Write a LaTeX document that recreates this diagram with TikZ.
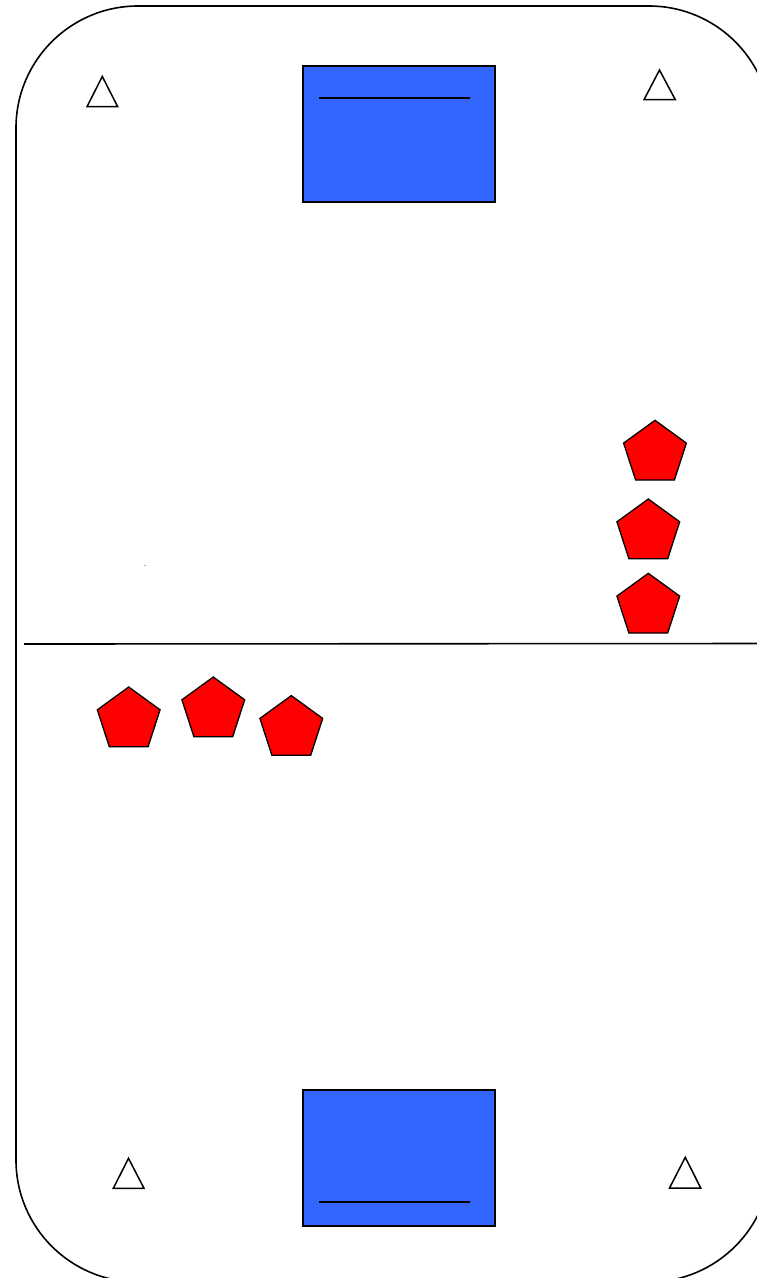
\documentclass[tikz,border=0pt]{standalone}
\usetikzlibrary{shapes.geometric}
\definecolor{goalblue}{HTML}{3366FF}
\definecolor{puckred}{HTML}{FF0000}
\tikzset{
  outline/.style={draw=black, line width=1.6pt},
  goalbox/.style={draw=black, line width=1.5pt, fill=goalblue},
  goalline/.style={draw=black, line width=1.5pt},
  cone/.style={draw=black, line width=1.5pt, fill=white},
  player/.style={regular polygon, regular polygon sides=5, minimum size=66pt, inner sep=0pt, draw=black, line width=1.3pt, fill=puckred},
}
\begin{document}
\begin{tikzpicture}[x=1pt, y=-1pt]
\useasboundingbox (0,0) rectangle (757,1278);
\clip (0,0) rectangle (757,1278);
\fill[white] (0,0) rectangle (757,1278);
% rink outline
\draw[outline, rounded corners=122pt] (16,6) rectangle (771,1282);
% centre line
\coordinate (cl) at (24,644);
\coordinate (cr) at (771,643.5);
\draw[outline] (cl) -- (cr);
% goals
\draw[goalbox] (303,66) rectangle (495,202);
\coordinate (gt1) at (319,98);
\coordinate (gt2) at (470,98);
\draw[goalline] (gt1) -- (gt2);
\draw[goalbox] (303,1090) rectangle (495,1226);
\coordinate (gb1) at (319,1202);
\coordinate (gb2) at (470,1202);
\draw[goalline] (gb1) -- (gb2);
% cones
\draw[cone] (102.3,76.5) -- (87,106.7) -- (117.7,106.7) -- cycle;
\draw[cone] (659.5,70) -- (644,99.7) -- (675.3,99.7) -- cycle;
\draw[cone] (128.5,1158.3) -- (113.3,1188.3) -- (144,1188.3) -- cycle;
\draw[cone] (685.3,1157.3) -- (669.5,1188) -- (700.7,1188) -- cycle;
% players
\node[player] (p1) at (655,453.3) {};
\node[player] (p2) at (648.3,532) {};
\node[player] (p3) at (648.3,606.3) {};
\node[player] (p4) at (128.7,720) {};
\node[player] (p5) at (213.3,710) {};
\node[player] (p6) at (291.3,728.6) {};
% tiny dot
\fill[gray] (145,565.3) circle (0.8pt);
\end{tikzpicture}
\end{document}
